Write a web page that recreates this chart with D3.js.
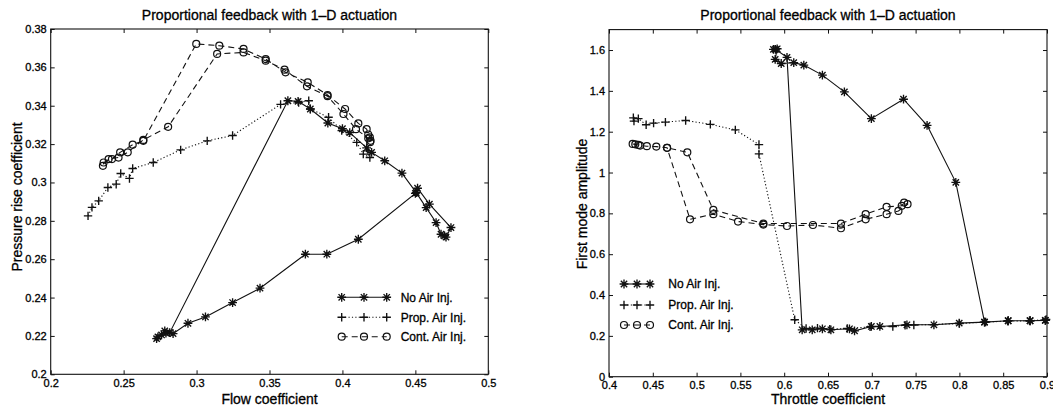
<!DOCTYPE html>
<html>
<head>
<meta charset="utf-8">
<script src="https://cdn.jsdelivr.net/npm/d3@7"></script>
<style>
  html, body { margin: 0; padding: 0; background: #fff; }
  svg { display: block; }
  text { font-family: "Liberation Sans", Arial, Helvetica, sans-serif; fill: #000; stroke: #000; stroke-width: 0.3px; }
</style>
</head>
<body>
<svg id="chart" width="1053" height="409"></svg>
<script>
// ---------------- DATA ----------------
const titleText = "Proportional feedback with 1\u2013D actuation";
const seriesNames = ["No Air Inj.", "Prop. Air Inj.", "Cont. Air Inj."];

// Left panel: Flow coefficient vs Pressure rise coefficient
const leftXTicks = [0.2, 0.25, 0.3, 0.35, 0.4, 0.45, 0.5];
const leftXTickLabels = ["0.2", "0.25", "0.3", "0.35", "0.4", "0.45", "0.5"];
const leftYTicks = [0.2, 0.22, 0.24, 0.26, 0.28, 0.3, 0.32, 0.34, 0.36, 0.38];
const leftYTickLabels = ["0.2", "0.22", "0.24", "0.26", "0.28", "0.3", "0.32", "0.34", "0.36", "0.38"];

const flowNoAir = [0.470, 0.4676, 0.4642, 0.4574, 0.4506, 0.4408, 0.429, 0.420, 0.4166, 0.405, 0.400, 0.390, 0.378, 0.3696, 0.3626,
  0.2816, 0.2782, 0.2726, 0.2735, 0.2760, 0.2790, 0.2839, 0.2941, 0.3061, 0.3247, 0.3435, 0.3746, 0.3893, 0.4109, 0.450, 0.4515, 0.4596, 0.4744, 0.471];
const pressNoAir = [0.2722, 0.2730, 0.2791, 0.2869, 0.2947, 0.3049, 0.3113, 0.3157, 0.318, 0.326, 0.328, 0.331, 0.3383, 0.3423, 0.3426,
  0.2217, 0.2226, 0.2186, 0.2195, 0.2205, 0.2215, 0.2212, 0.2266, 0.2299, 0.2374, 0.2449, 0.2626, 0.2626, 0.2704, 0.2943, 0.297, 0.2887, 0.2765, 0.2715];

const flowProp = [0.2256, 0.2283, 0.2329, 0.2392, 0.2449, 0.248, 0.254, 0.2562, 0.2703, 0.2891, 0.3073, 0.3247, 0.3576, 0.370, 0.3769, 0.378, 0.3905, 0.3995, 0.4098, 0.4143, 0.4188, 0.4175];
const pressProp = [0.2826, 0.287, 0.2904, 0.2974, 0.2991, 0.3047, 0.3021, 0.3073, 0.3104, 0.317, 0.3217, 0.3245, 0.3407, 0.3417, 0.3426, 0.3383, 0.334, 0.327, 0.3209, 0.3148, 0.313, 0.3165];

const flowCont = [0.4193, 0.4188, 0.4177, 0.4166, 0.4109, 0.4018, 0.3898, 0.3762, 0.361, 0.3474, 0.3322, 0.3156, 0.2998,
  0.2635, 0.2562, 0.2476, 0.242, 0.2363, 0.2358, 0.2397, 0.2465, 0.2528, 0.2635, 0.2805, 0.3141, 0.3322, 0.3474, 0.3603, 0.3757, 0.3898, 0.4007, 0.4093, 0.4177, 0.419];
const pressCont = [0.3217, 0.3235, 0.325, 0.3278, 0.3308, 0.3383, 0.3456, 0.3522, 0.3574, 0.3643, 0.3696, 0.3713, 0.3722,
  0.3217, 0.3197, 0.3157, 0.3122, 0.3104, 0.3087, 0.3122, 0.313, 0.3157, 0.3222, 0.329, 0.367, 0.3678, 0.3635, 0.3588, 0.3501, 0.345, 0.3357, 0.3278, 0.323, 0.321];

// Right panel: Throttle coefficient vs First mode amplitude
const rightXTicks = [0.4, 0.45, 0.5, 0.55, 0.6, 0.65, 0.7, 0.75, 0.8, 0.85, 0.9];
const rightXTickLabels = ["0.4", "0.45", "0.5", "0.55", "0.6", "0.65", "0.7", "0.75", "0.8", "0.85", "0.9"];
const rightYTicks = [0, 0.2, 0.4, 0.6, 0.8, 1.0, 1.2, 1.4, 1.6];
const rightYTickLabels = ["0", "0.2", "0.4", "0.6", "0.8", "1", "1.2", "1.4", "1.6"];

const throttleNoAir = [0.8981, 0.8807, 0.8557, 0.8287, 0.7998, 0.7709, 0.7401, 0.7092, 0.6995, 0.6803, 0.6745, 0.6533, 0.6436, 0.632, 0.6205,
  0.6032, 0.5900, 0.5877, 0.5920, 0.5897, 0.5966, 0.6109, 0.6224, 0.6436, 0.6687, 0.6995, 0.7362, 0.7631, 0.7959, 0.8287, 0.8557, 0.8807, 0.8981];
const ampNoAir = [0.2757, 0.274, 0.274, 0.2675, 0.2626, 0.2543, 0.2543, 0.246, 0.246, 0.2248, 0.2347, 0.2297, 0.2347, 0.2297, 0.2297,
  1.564, 1.603, 1.603, 1.606, 1.554, 1.534, 1.538, 1.526, 1.477, 1.395, 1.264, 1.359, 1.231, 0.952, 0.2675, 0.274, 0.274, 0.2757];

const throttleProp = [0.4278, 0.4285, 0.4335, 0.4424, 0.4509, 0.4644, 0.4875, 0.5157, 0.5442, 0.5712, 0.5712, 0.612,
  0.625, 0.638, 0.652, 0.672, 0.698, 0.724, 0.738, 0.748, 0.80, 0.83, 0.855, 0.88, 0.899];
const ampProp = [1.268, 1.252, 1.264, 1.234, 1.242, 1.247, 1.255, 1.236, 1.209, 1.137, 1.091, 0.279,
  0.236, 0.238, 0.233, 0.236, 0.244, 0.246, 0.252, 0.253, 0.26, 0.268, 0.272, 0.274, 0.28];

const throttleCont = [0.427, 0.430, 0.4335, 0.4355, 0.4432, 0.454, 0.4663, 0.4925, 0.5191, 0.5473, 0.5762, 0.6032, 0.6328, 0.6648, 0.693, 0.7169, 0.7304, 0.7408,
  0.7369, 0.7342, 0.7169, 0.693, 0.6648, 0.5762, 0.5191, 0.4894, 0.4663];
const ampCont = [1.140, 1.138, 1.135, 1.132, 1.129, 1.127, 1.121, 0.771, 0.796, 0.760, 0.745, 0.738, 0.743, 0.727, 0.771, 0.796, 0.812, 0.845,
  0.853, 0.837, 0.832, 0.796, 0.750, 0.750, 0.817, 1.099, 1.121];

// ---------------- DRAWING ----------------
const svg = d3.select("#chart");
const ink = "#111";

function markerPath(type, r) {
  if (type === "star") {
    const d = r * 0.72;
    return `M${-r},0L${r},0M0,${-r}L0,${r}M${-d},${-d}L${d},${d}M${-d},${d}L${d},${-d}`;
  }
  if (type === "plus") {
    return `M${-r},0L${r},0M0,${-r}L0,${r}`;
  }
  return null;
}

function drawMarkers(g, pts, type) {
  if (type === "circle") {
    g.selectAll(null).data(pts).enter().append("circle")
      .attr("cx", d => d[0]).attr("cy", d => d[1]).attr("r", 3.5)
      .attr("fill", "none").attr("stroke", ink).attr("stroke-width", 1.2);
  } else {
    const r = type === "star" ? 4.4 : 4.2;
    g.selectAll(null).data(pts).enter().append("path")
      .attr("transform", d => `translate(${d[0]},${d[1]})`)
      .attr("d", markerPath(type, r))
      .attr("fill", "none").attr("stroke", ink).attr("stroke-width", 1.35);
  }
}

const styles = [
  { marker: "star", dash: null },
  { marker: "plus", dash: "1.2,2.2" },
  { marker: "circle", dash: "6,4" }
];

function panel(cfg) {
  const x = d3.scaleLinear().domain(cfg.xDomain).range([cfg.x0, cfg.x1]);
  const y = d3.scaleLinear().domain(cfg.yDomain).range([cfg.y0, cfg.y1]);
  const g = svg.append("g");

  // axes with inward ticks on all four sides
  const tl = 4;
  const ax = g.append("g").attr("transform", `translate(0,${cfg.y0})`)
    .call(d3.axisBottom(x).tickValues(cfg.xTicks).tickSize(-tl).tickPadding(5)
      .tickFormat((d, i) => cfg.xLabels[i]));
  const axT = g.append("g").attr("transform", `translate(0,${cfg.y1})`)
    .call(d3.axisTop(x).tickValues(cfg.xTicks).tickSize(-tl).tickFormat(""));
  const ay = g.append("g").attr("transform", `translate(${cfg.x0},0)`)
    .call(d3.axisLeft(y).tickValues(cfg.yTicks).tickSize(-tl).tickPadding(4)
      .tickFormat((d, i) => cfg.yLabels[i]));
  const ayR = g.append("g").attr("transform", `translate(${cfg.x1},0)`)
    .call(d3.axisRight(y).tickValues(cfg.yTicks).tickSize(-tl).tickFormat(""));
  [ax, axT, ay, ayR].forEach(a => {
    a.select(".domain").remove();
    a.selectAll(".tick line").attr("stroke", ink).attr("stroke-width", 1);
    a.selectAll(".tick text").style("font-size", "11px").attr("fill", "#000");
  });
  g.append("rect").attr("x", cfg.x0).attr("y", cfg.y1)
    .attr("width", cfg.x1 - cfg.x0).attr("height", cfg.y0 - cfg.y1)
    .attr("fill", "none").attr("stroke", ink).attr("stroke-width", 1.1);

  // series
  const line = d3.line().x(d => d[0]).y(d => d[1]);
  cfg.series.forEach((s, i) => {
    const pts = s.xs.map((v, k) => [x(v), y(s.ys[k])]);
    const st = styles[i];
    g.append("path").attr("d", line(pts)).attr("fill", "none")
      .attr("stroke", ink).attr("stroke-width", 1.1)
      .attr("stroke-dasharray", st.dash);
    drawMarkers(g.append("g"), pts, st.marker);
  });

  // legend
  seriesNames.forEach((name, i) => {
    const ly = cfg.legend.rows[i];
    const st = styles[i];
    const lx = cfg.legend.xs;
    g.append("line").attr("x1", lx[0]).attr("x2", lx[2]).attr("y1", ly).attr("y2", ly)
      .attr("stroke", ink).attr("stroke-width", 1.1).attr("stroke-dasharray", st.dash);
    drawMarkers(g.append("g"), lx.map(v => [v, ly]), st.marker);
    g.append("text").attr("x", cfg.legend.tx).attr("y", ly).attr("dy", "0.35em")
      .style("font-size", "12px").text(name);
  });

  // titles
  g.append("text").attr("x", (cfg.x0 + cfg.x1) / 2).attr("y", 20)
    .attr("text-anchor", "middle").style("font-size", "14px").text(titleText);
  g.append("text").attr("x", (cfg.x0 + cfg.x1) / 2).attr("y", 404)
    .attr("text-anchor", "middle").style("font-size", "14px").text(cfg.xTitle);
  g.append("text").attr("transform", `translate(${cfg.yTitleX},${cfg.yTitleY}) rotate(-90)`)
    .attr("text-anchor", "middle").style("font-size", "14px").text(cfg.yTitle);
}

panel({
  xDomain: [0.2, 0.5], yDomain: [0.2, 0.38],
  x0: 50.7, x1: 488.3, y0: 374.3, y1: 29,
  xTicks: leftXTicks, xLabels: leftXTickLabels,
  yTicks: leftYTicks, yLabels: leftYTickLabels,
  series: [
    { xs: flowNoAir, ys: pressNoAir },
    { xs: flowProp, ys: pressProp },
    { xs: flowCont, ys: pressCont }
  ],
  legend: { xs: [341.7, 364, 386.7], rows: [297.3, 317.3, 336.7], tx: 400.7 },
  xTitle: "Flow coefficient", yTitle: "Pressure rise coefficient",
  yTitleX: 21.5, yTitleY: 197
});

panel({
  xDomain: [0.4, 0.9], yDomain: [0, 1.7],
  x0: 609, x1: 1047, y0: 376.7, y1: 29.6,
  xTicks: rightXTicks, xLabels: rightXTickLabels,
  yTicks: rightYTicks, yLabels: rightYTickLabels,
  series: [
    { xs: throttleNoAir, ys: ampNoAir },
    { xs: throttleProp, ys: ampProp },
    { xs: throttleCont, ys: ampCont }
  ],
  legend: { xs: [624, 637, 650], rows: [284, 305, 325], tx: 668.3 },
  xTitle: "Throttle coefficient", yTitle: "First mode amplitude",
  yTitleX: 587, yTitleY: 204
});
</script>
</body>
</html>
